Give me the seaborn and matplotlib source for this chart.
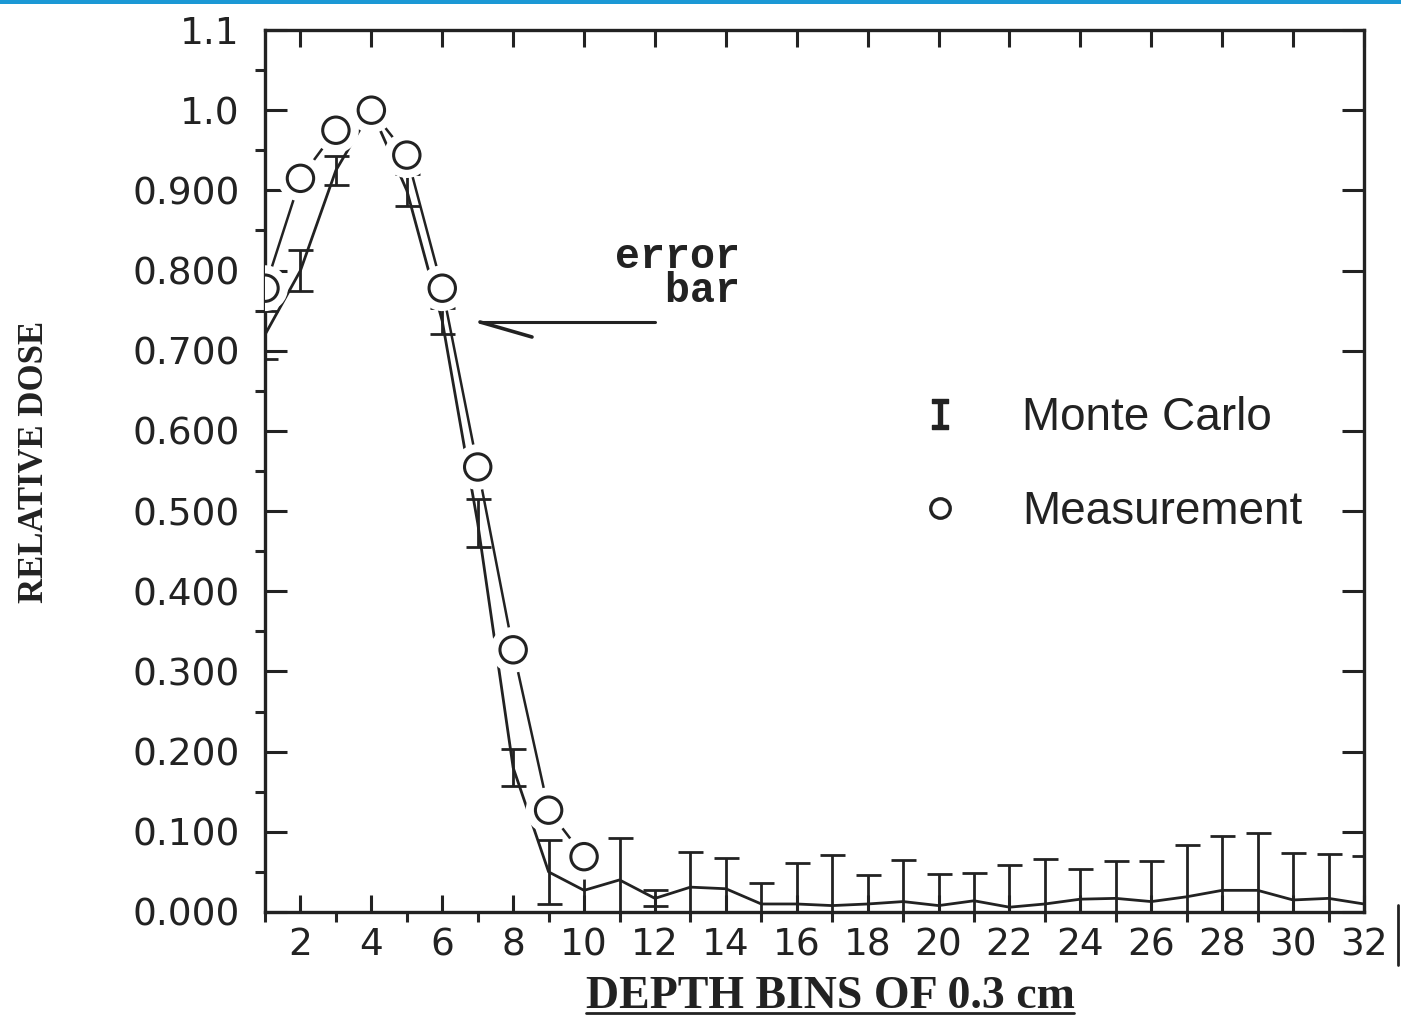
import numpy as np
import pandas as pd
import matplotlib
matplotlib.use("Agg")
import matplotlib.pyplot as plt
import seaborn as sns
from matplotlib.lines import Line2D
from matplotlib.patches import Rectangle
from matplotlib.ticker import FixedLocator, FixedFormatter

# ---------------- data ----------------
depth_bins = list(range(1, 33))
mc_dose = [0.72, 0.80, 0.925, 1.00, 0.90, 0.737, 0.485, 0.18, 0.05, 0.027,
           0.04, 0.017, 0.031, 0.029, 0.01, 0.01, 0.008, 0.01, 0.013, 0.008,
           0.014, 0.006, 0.01, 0.016, 0.017, 0.013, 0.019, 0.027, 0.027, 0.015,
           0.017, 0.01]
mc_error = [0.03, 0.025, 0.018, 0.018, 0.02, 0.016, 0.03, 0.023, 0.04, 0.042,
            0.052, 0.01, 0.044, 0.038, 0.026, 0.051, 0.063, 0.036, 0.052, 0.039,
            0.035, 0.053, 0.056, 0.038, 0.046, 0.05, 0.064, 0.068, 0.072, 0.059,
            0.055, 0.06]
meas_bins = list(range(1, 11))
meas_dose = [0.778, 0.915, 0.975, 1.0, 0.944, 0.778, 0.555, 0.327, 0.127, 0.069]

x_ticks = list(range(2, 33, 2))
x_tick_labels = [str(v) for v in x_ticks]
x_minor = list(range(1, 33, 2))
y_ticks = [0.0, 0.1, 0.2, 0.3, 0.4, 0.5, 0.6, 0.7, 0.8, 0.9, 1.0, 1.1]
y_tick_labels = ["0.000", "0.100", "0.200", "0.300", "0.400", "0.500",
                 "0.600", "0.700", "0.800", "0.900", "1.0", "1.1"]
y_minor = [0.05, 0.15, 0.25, 0.35, 0.45, 0.55, 0.65, 0.75, 0.85, 0.95, 1.05]

series_labels = ["Monte Carlo", "Measurement"]

mc_df = pd.DataFrame({"bin": depth_bins, "dose": mc_dose, "err": mc_error})
meas_df = pd.DataFrame({"bin": meas_bins, "dose": meas_dose})

# ---------------- style ----------------
sns.set_style("ticks")
plt.rcParams["font.family"] = ["DejaVu Sans"]
plt.rcParams["mathtext.fontset"] = "dejavusans"
INK = "#222222"

W, H = 1401, 1021
fig = plt.figure(figsize=(W / 100, H / 100), dpi=100)
fig.patch.set_facecolor("white")
ax = fig.add_axes([265 / W, 1 - 912 / H, (1364 - 265) / W, (912 - 30) / H])
ax.set_facecolor("white")

# Monte Carlo curve
sns.lineplot(data=mc_df, x="bin", y="dose", ax=ax, color=INK, lw=2.0,
             estimator=None, sort=False, legend=False)
ax.errorbar(mc_df["bin"], mc_df["dose"], yerr=mc_df["err"], fmt="none",
            ecolor=INK, elinewidth=2.0, capsize=9, capthick=2.0, zorder=3)

# Measurement line + circles
sns.lineplot(data=meas_df, x="bin", y="dose", ax=ax, color=INK, lw=1.8,
             estimator=None, sort=False, legend=False, zorder=4)
sns.scatterplot(data=meas_df, x="bin", y="dose", ax=ax, s=33 ** 2,
                color="white", edgecolor="none", zorder=5, legend=False)
sns.scatterplot(data=meas_df, x="bin", y="dose", ax=ax, s=19 ** 2,
                facecolor="none", edgecolor=INK, linewidth=2.2, zorder=6,
                legend=False)

# axes limits & ticks
ax.set_xlim(1, 32)
ax.set_ylim(0, 1.1)
ax.set_xlabel("")
ax.set_ylabel("")
ax.xaxis.set_major_locator(FixedLocator(x_ticks))
ax.xaxis.set_major_formatter(FixedFormatter(x_tick_labels))
ax.xaxis.set_minor_locator(FixedLocator(x_minor))
ax.yaxis.set_major_locator(FixedLocator(y_ticks))
ax.yaxis.set_major_formatter(FixedFormatter(y_tick_labels))
ax.yaxis.set_minor_locator(FixedLocator(y_minor))

ax.tick_params(axis="x", which="major", direction="in", length=12, width=2.2,
               top=True, bottom=True, labelsize=27, pad=11, colors=INK)
ax.tick_params(axis="x", which="minor", direction="out", length=7, width=2.2,
               top=False, bottom=True)
ax.tick_params(axis="y", which="major", direction="in", length=16, width=2.2,
               left=True, right=True, labelsize=27, pad=18, colors=INK)
ax.tick_params(axis="y", which="minor", direction="out", length=7, width=2.2,
               left=True, right=False)
for sp in ax.spines.values():
    sp.set_visible(True)
    sp.set_linewidth(2.4)
    sp.set_color(INK)

# legend
mc_handle = Line2D([], [], ls="none", marker=r"$\mathtt{I}$", color=INK,
                   markersize=21)
meas_handle = Line2D([], [], ls="none", marker="o", markerfacecolor="none",
                     markeredgecolor=INK, markersize=14, markeredgewidth=2.4)
leg = ax.legend([mc_handle, meas_handle], series_labels, loc="upper left",
                bbox_to_anchor=(917 / W, 1 - 396 / H),
                bbox_transform=fig.transFigure, frameon=False,
                prop={"family": "Liberation Sans", "size": 33},
                handlelength=1.0, handletextpad=1.3, labelspacing=1.1,
                borderpad=0, borderaxespad=0)
for t in leg.get_texts():
    t.set_color(INK)

# "error bar" annotation
fig.text(615 / W, 1 - 274 / H, "error\n  bar", ha="left", va="center",
         multialignment="left", linespacing=0.78,
         family="Liberation Mono", weight="bold", fontsize=30, color=INK)
fig.add_artist(Line2D([655 / W, 480 / W], [1 - 322 / H, 1 - 322 / H],
                      color=INK, lw=2.2, transform=fig.transFigure))
fig.add_artist(Line2D([480 / W, 532 / W], [1 - 322 / H, 1 - 337 / H],
                      color=INK, lw=2.6, transform=fig.transFigure))

# axis labels
fig.text(35 / W, 1 - 462 / H, "RELATIVE DOSE", rotation=90, ha="center",
         va="center", family="Liberation Serif", weight="bold", fontsize=25,
         color=INK)
xl = fig.text(830 / W, 1 - 1008 / H, "DEPTH BINS OF 0.3 cm", ha="center",
              va="baseline", family="Liberation Serif", weight="bold",
              fontsize=33, color=INK)
fig.canvas.draw()
bb = xl.get_window_extent()
fig.add_artist(Line2D([bb.x0 / W, bb.x1 / W], [1 - 1013 / H, 1 - 1013 / H],
                      color=INK, lw=2.0, transform=fig.transFigure))

# scan decorations: blue top border and right-edge mark
fig.add_artist(Rectangle((0, 1 - 4 / H), 1, 4 / H, transform=fig.transFigure,
                         color="#1b98d5", lw=0))
fig.add_artist(Line2D([1398 / W, 1398 / W], [1 - 905 / H, 1 - 965 / H],
                      color=INK, lw=2.0, transform=fig.transFigure))

fig.savefig("out.png", dpi=100, facecolor="white")
